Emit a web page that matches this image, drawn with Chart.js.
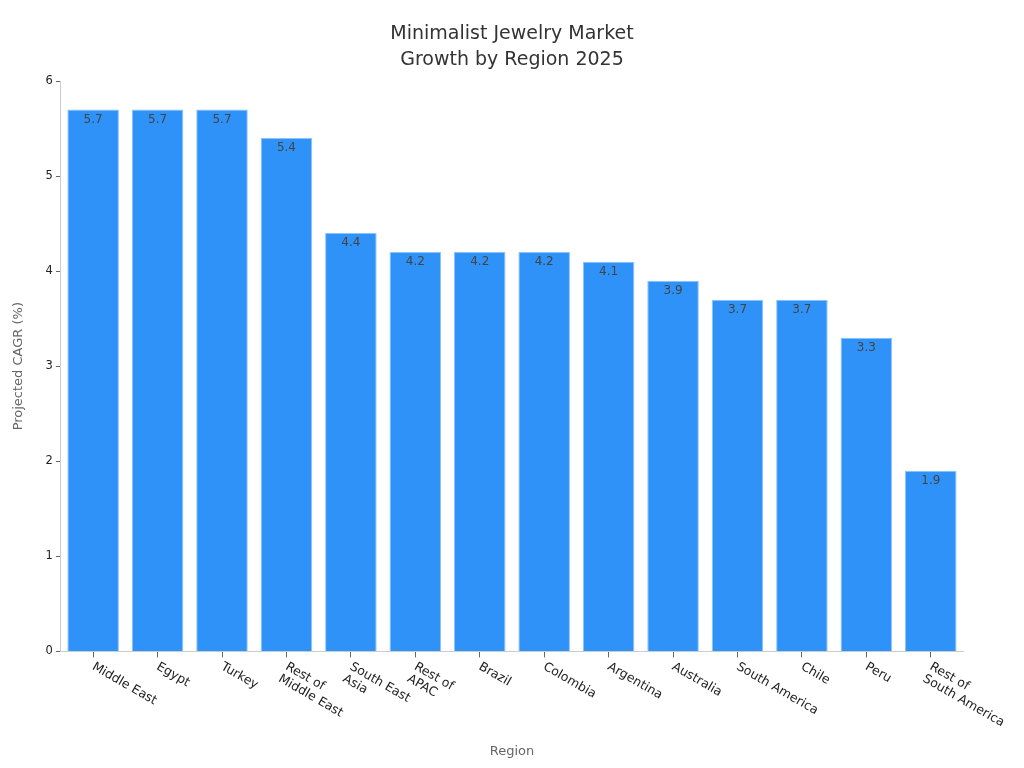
<!DOCTYPE html>
<html>
<head>
<meta charset="utf-8">
<script src="https://cdn.jsdelivr.net/npm/chart.js@4.4.1/dist/chart.umd.min.js"></script>
<style>
  html, body { margin: 0; padding: 0; background: #fff; }
  #wrap { width: 1024px; height: 768px; position: relative; }
</style>
</head>
<body>
<div id="wrap"><canvas id="cagrChart"></canvas></div>
<script>
// regions (multi-line labels as arrays)
const regions = [
  ["Middle East"], ["Egypt"], ["Turkey"], ["Rest of", "Middle East"],
  ["South East", "Asia"], ["Rest of", "APAC"], ["Brazil"], ["Colombia"],
  ["Argentina"], ["Australia"], ["South America"], ["Chile"], ["Peru"],
  ["Rest of", "South America"]
];
const cagrValues = [5.7, 5.7, 5.7, 5.4, 4.4, 4.2, 4.2, 4.2, 4.1, 3.9, 3.7, 3.7, 3.3, 1.9];
const yTicks = [0, 1, 2, 3, 4, 5, 6];
const titleLines = ["Minimalist Jewelry Market", "Growth by Region 2025"];

const FONT = "'DejaVu Sans', sans-serif";

// title centred on the whole canvas (built-in title follows layout padding)
const centeredTitlePlugin = {
  id: "centeredTitle",
  afterDraw(chart) {
    const ctx = chart.ctx;
    ctx.save();
    ctx.font = "19px " + FONT;
    ctx.fillStyle = "#333";
    ctx.textAlign = "center";
    ctx.textBaseline = "middle";
    titleLines.forEach((t, i) => ctx.fillText(t, chart.width / 2, 34 + i * 26));
    ctx.restore();
  }
};

// value labels just inside the top of each bar
const barValuePlugin = {
  id: "barValues",
  afterDatasetsDraw(chart) {
    const ctx = chart.ctx;
    const meta = chart.getDatasetMeta(0);
    ctx.save();
    ctx.font = "12px " + FONT;
    ctx.fillStyle = "#444";
    ctx.textAlign = "center";
    ctx.textBaseline = "top";
    meta.data.forEach((bar, i) => {
      ctx.fillText(cagrValues[i].toFixed(1), bar.x, bar.y + 4);
    });
    ctx.restore();
  }
};

// rotated category labels starting at the tick and running down-right
const rotatedLabelsPlugin = {
  id: "rotatedLabels",
  afterDraw(chart) {
    const ctx = chart.ctx;
    const xScale = chart.scales.x;
    const angle = 30 * Math.PI / 180;
    const lineH = 14;
    ctx.save();
    ctx.font = "12.5px " + FONT;
    ctx.fillStyle = "#222";
    ctx.textAlign = "left";
    ctx.textBaseline = "top";
    regions.forEach((lines, i) => {
      const x = xScale.getPixelForTick(i);
      const y = xScale.top + 9;
      ctx.save();
      ctx.translate(x + 3, y);
      ctx.rotate(angle);
      lines.forEach((ln, k) => ctx.fillText(ln, 0, k * lineH));
      ctx.restore();
    });
    ctx.restore();
  }
};

new Chart(document.getElementById("cagrChart"), {
  type: "bar",
  data: {
    labels: regions.map(r => r.join(" ")),
    datasets: [{
      data: cagrValues,
      backgroundColor: "#2f92f9",
      borderColor: "#8cc3fb",
      borderWidth: 1,
      barPercentage: 0.8,
      categoryPercentage: 1.0
    }]
  },
  options: {
    responsive: true,
    maintainAspectRatio: false,
    animation: false,
    layout: { padding: { left: 11, right: 61, top: 81, bottom: 9 } },
    plugins: {
      legend: { display: false },
      tooltip: { enabled: false },
      title: { display: false }
    },
    scales: {
      x: {
        grid: { display: true, drawOnChartArea: false, offset: false, tickLength: 6, color: "#666" },
        border: { display: true, color: "#ccc" },
        ticks: { display: false },
        title: {
          display: true,
          text: "Region",
          color: "#666",
          font: { family: FONT, size: 13 },
          padding: { top: 86, bottom: 0 }
        }
      },
      y: {
        min: 0,
        max: 6,
        afterBuildTicks(axis) { axis.ticks = yTicks.map(v => ({ value: v })); },
        grid: { display: true, drawOnChartArea: false, tickLength: 5, color: "#666" },
        border: { display: true, color: "#ccc" },
        ticks: { color: "#222", font: { family: FONT, size: 11.5 }, padding: 3 },
        title: {
          display: true,
          text: "Projected CAGR (%)",
          color: "#666",
          font: { family: FONT, size: 13 },
          padding: { top: 0, bottom: 16 }
        }
      }
    }
  },
  plugins: [barValuePlugin, rotatedLabelsPlugin, centeredTitlePlugin]
});
</script>
</body>
</html>
